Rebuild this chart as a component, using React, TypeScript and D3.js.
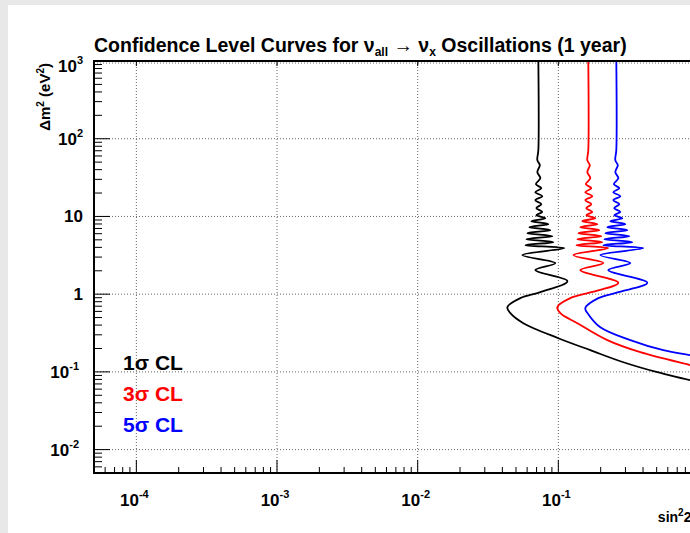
import React from 'react';
import * as d3 from 'd3';

// canvas and frame (ROOT style pad)
const width = 690;
const height = 533;
const frameLeft = 94;
const frameRight = 699;
const frameTop = 61;
const frameBottom = 473;

const xDomain = [5e-5, 1];
const yDomain = [5e-3, 1000];

const xLabelExp = [
  [1e-4, '-4'],
  [1e-3, '-3'],
  [1e-2, '-2'],
  [1e-1, '-1'],
];
const yLabels = [
  [1e-2, '10', '-2'],
  [1e-1, '10', '-1'],
  [1, '1', ''],
  [10, '10', ''],
  [100, '10', '2'],
  [1000, '10', '3'],
];

// [sin^2 2theta, dm^2], top to bottom along each curve
const oneSigma = [
  [0.0721, 1000], [0.0721, 71.3], [0.0709, 53.0], [0.0739, 45.7], [0.0709, 37.2],
  [0.0745, 31.1], [0.0692, 26.0], [0.0757, 23.1], [0.0686, 20.5], [0.0769, 18.2],
  [0.0686, 16.2], [0.0757, 14.4], [0.0698, 12.8], [0.0769, 11.4], [0.0698, 10.4],
  [0.0808, 9.5], [0.0643, 8.7], [0.0849, 7.96], [0.0622, 7.28], [0.0877, 6.66],
  [0.0602, 6.1], [0.0907, 5.58], [0.0593, 5.1], [0.0922, 4.67], [0.0583, 4.27],
  [0.1103, 3.91], [0.0555, 3.18], [0.0952, 2.51], [0.0686, 2.04], [0.116, 1.47],
  [0.0745, 1.06], [0.0537, 0.888], [0.0434, 0.68], [0.0456, 0.569], [0.0564, 0.423],
  [0.1, 0.271], [0.169, 0.19], [0.29, 0.133], [0.505, 0.099], [0.867, 0.078], [1.0, 0.072],
];
const threeSigma = [
  [0.1633, 1000], [0.1633, 71.3], [0.1607, 53.0], [0.1674, 45.7], [0.1607, 37.2],
  [0.1688, 31.1], [0.1568, 26.0], [0.1716, 23.1], [0.1555, 20.5], [0.1744, 18.2],
  [0.1555, 16.2], [0.1716, 14.4], [0.1581, 12.8], [0.1744, 11.4], [0.1581, 10.4],
  [0.1832, 9.5], [0.1481, 8.7], [0.1893, 7.96], [0.1433, 7.28], [0.1956, 6.66],
  [0.1388, 6.1], [0.2021, 5.58], [0.1365, 5.1], [0.2054, 4.67], [0.1343, 4.27],
  [0.2266, 3.91], [0.1278, 3.18], [0.2088, 2.51], [0.1433, 2.04], [0.267, 1.4],
  [0.1716, 1.06], [0.1217, 0.888], [0.0984, 0.68], [0.1033, 0.569], [0.1365, 0.423],
  [0.2229, 0.256], [0.3826, 0.179], [0.867, 0.122], [1.0, 0.114],
];
const fiveSigma = [
  [0.2583, 1000], [0.2583, 71.3], [0.2541, 53.0], [0.2648, 45.7], [0.2541, 37.2],
  [0.267, 31.1], [0.248, 26.0], [0.2713, 23.1], [0.2459, 20.5], [0.2759, 18.2],
  [0.2459, 16.2], [0.2713, 14.4], [0.25, 12.8], [0.2759, 11.4], [0.25, 10.4],
  [0.285, 9.5], [0.2342, 8.7], [0.2994, 7.96], [0.2229, 7.28], [0.3094, 6.66],
  [0.2158, 6.1], [0.3196, 5.58], [0.2123, 5.1], [0.3357, 4.67], [0.2088, 4.27],
  [0.4018, 3.91], [0.1988, 3.18], [0.3249, 2.51], [0.2266, 2.04], [0.429, 1.4],
  [0.267, 1.06], [0.1924, 0.888], [0.1555, 0.66], [0.1633, 0.553], [0.1988, 0.376],
  [0.3249, 0.256], [0.5574, 0.19], [0.867, 0.164], [1.0, 0.156],
];

const curves = [
  { name: '1', data: oneSigma, color: '#000000' },
  { name: '3', data: threeSigma, color: '#ff0000' },
  { name: '5', data: fiveSigma, color: '#0000ff' },
];

const font = '"Liberation Sans", Arial, Helvetica, sans-serif';

export default function App() {
  const x = d3.scaleLog().domain(xDomain).range([frameLeft, frameRight]);
  const y = d3.scaleLog().domain(yDomain).range([frameBottom, frameTop]);

  const isMajor = (v) => Math.abs(Math.log10(v) - Math.round(Math.log10(v))) < 1e-6;
  const xTicks = x.ticks();
  const yTicks = y.ticks();

  const line = d3
    .line()
    .x((d) => x(d[0]))
    .y((d) => y(d[1]))
    .curve(d3.curveCatmullRom.alpha(0.5));

  return (
    <svg
      width={width}
      height={height}
      style={{ position: 'absolute', left: 0, top: 0, fontFamily: font }}
    >
      <rect x={0} y={0} width={width} height={height} fill="#e8e8e8" />
      <rect x={8} y={5} width={width - 8} height={height - 5} fill="#ffffff" />

      <defs>
        <clipPath id="frame-clip">
          <rect x={frameLeft} y={frameTop} width={frameRight - frameLeft} height={frameBottom - frameTop} />
        </clipPath>
      </defs>

      {/* grid */}
      <g stroke="#666" strokeWidth={1} strokeDasharray="1,2">
        {xTicks.filter(isMajor).map((t) => (
          <line key={'gx' + t} x1={x(t)} x2={x(t)} y1={frameTop} y2={frameBottom} />
        ))}
        {yTicks.filter(isMajor).map((t) => (
          <line key={'gy' + t} x1={frameLeft} x2={frameRight} y1={y(t) + (t === 1000 ? 2 : 0)} y2={y(t) + (t === 1000 ? 2 : 0)} />
        ))}
      </g>

      {/* ticks */}
      <g stroke="#000" strokeWidth={1}>
        {xTicks.map((t) => (
          <line key={'tx' + t} x1={x(t)} x2={x(t)} y1={frameBottom} y2={frameBottom - (isMajor(t) ? 13 : 6)} />
        ))}
        {xTicks.filter(isMajor).map((t) => (
          <line key={'ttx' + t} x1={x(t)} x2={x(t)} y1={frameTop} y2={frameTop + 5} />
        ))}
        {yTicks.map((t) => (
          <line key={'ty' + t} x1={frameLeft} x2={frameLeft + (isMajor(t) ? 16 : 8)} y1={y(t)} y2={y(t)} />
        ))}
      </g>

      {/* curves */}
      <g clipPath="url(#frame-clip)" fill="none">
        {curves.map((c) => (
          <path key={c.name} d={line(c.data)} stroke={c.color} strokeWidth={1.8} />
        ))}
      </g>

      {/* frame */}
      <rect
        x={frameLeft}
        y={frameTop}
        width={frameRight - frameLeft}
        height={frameBottom - frameTop}
        fill="none"
        stroke="#000"
        strokeWidth={2}
      />

      {/* x labels */}
      <g fontWeight="bold" fontSize={17} textAnchor="middle">
        {xLabelExp.map(([v, e]) => (
          <text key={'lx' + v} x={x(v) - 2} y={506}>
            10<tspan fontSize={11} dy={-8}>{e}</tspan>
          </text>
        ))}
      </g>

      {/* y labels */}
      <g fontWeight="bold" fontSize={17} textAnchor="end">
        {yLabels.map(([v, b, e]) => (
          <text key={'ly' + v} x={e.startsWith('-') ? 79 : 83} y={Math.max(y(v) + 6, 72)}>
            {b}
            {e && (
              <tspan fontSize={11} dy={-8}>
                {e}
              </tspan>
            )}
          </text>
        ))}
      </g>

      {/* axis titles */}
      <text x={frameRight} y={522} textAnchor="end" fontWeight="bold" fontSize={14}>
        sin<tspan fontSize={10} dy={-6}>2</tspan>
        <tspan dy={6}>2θ</tspan>
      </text>
      <text
        transform={`translate(50,63) rotate(-90)`}
        textAnchor="end"
        fontWeight="bold"
        fontSize={15}
      >
        Δm<tspan fontSize={10} dy={-6}>2</tspan>
        <tspan dy={6}> (eV</tspan>
        <tspan fontSize={10} dy={-6}>2</tspan>
        <tspan dy={6}>)</tspan>
      </text>

      {/* title */}
      <text x={94} y={52} fontWeight="bold" fontSize={19.5}>
        Confidence Level Curves for ν<tspan fontSize={12} dy={4}>all</tspan>
        <tspan dy={-4}> → ν</tspan>
        <tspan fontSize={12} dy={4}>x</tspan>
        <tspan dy={-4}> Oscillations (1 year)</tspan>
      </text>

      {/* legend */}
      <g fontWeight="bold" fontSize={21}>
        {curves.map((c, i) => (
          <text key={'lg' + c.name} x={123} y={370 + i * 31} fill={c.color}>
            {c.name}σ CL
          </text>
        ))}
      </g>
    </svg>
  );
}
